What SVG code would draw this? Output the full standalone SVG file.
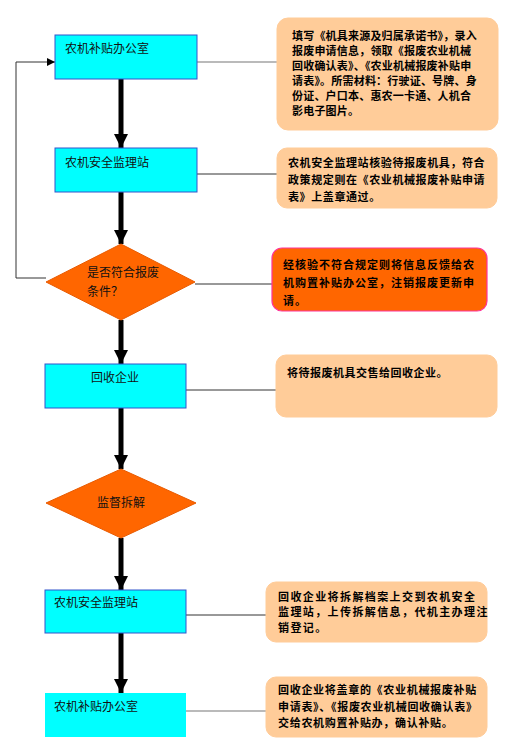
<svg xmlns="http://www.w3.org/2000/svg" width="510" height="756" viewBox="0 0 510 756">
<defs>
<marker id="big" viewBox="0 0 14 16" refX="14" refY="7" markerWidth="14" markerHeight="16" markerUnits="userSpaceOnUse" orient="auto">
<path d="M0,0 L14,7 L0,14 Z" fill="#000"/>
</marker>
<marker id="small" viewBox="0 0 8 8" refX="8" refY="4" markerWidth="8" markerHeight="8" markerUnits="userSpaceOnUse" orient="auto">
<path d="M0,0 L8,4 L0,8 Z" fill="#000"/>
</marker>
<style>
.box{fill:#00FFFF;stroke:#3355CC;stroke-width:1}
.dia{fill:#FF6600;stroke:#E85A00;stroke-width:1}
.note{fill:#FFCC99;stroke:#FFCC99}
.red{fill:#FF6600;stroke:#FF3399;stroke-width:1.2}
.nt{font-family:"Noto Sans CJK SC",sans-serif;font-size:12px;fill:#111}
.tt{font-family:"Noto Sans CJK SC",sans-serif;font-size:11px;font-weight:bold;fill:#000}
.thick{stroke:#000;stroke-width:5;fill:none}
.thin{stroke:#333;stroke-width:1;fill:none}
.gray{stroke:#777;stroke-width:1.2;fill:none}
</style>
</defs>
<rect width="510" height="756" fill="#fff"/>
<g id="connectors">
<line class="thick" x1="121" y1="79" x2="121" y2="148" marker-end="url(#big)"/>
<line class="thick" x1="121" y1="192" x2="121" y2="244" marker-end="url(#big)"/>
<line class="thick" x1="121" y1="320" x2="121" y2="364" marker-end="url(#big)"/>
<line class="thick" x1="121" y1="408" x2="121" y2="469" marker-end="url(#big)"/>
<line class="thick" x1="121" y1="538" x2="121" y2="590" marker-end="url(#big)"/>
<line class="thick" x1="121" y1="633" x2="121" y2="693" marker-end="url(#big)"/>
<polyline class="thin" points="46,278 16,278 16,62 55,62" marker-end="url(#small)"/>
<line class="gray" x1="197" y1="62" x2="277" y2="62"/>
<line class="thin" x1="197" y1="174" x2="277" y2="174"/>
<line class="thin" x1="195" y1="284" x2="272" y2="284"/>
<line class="thin" x1="186" y1="390" x2="276" y2="390"/>
<line class="thin" x1="186" y1="615" x2="266" y2="615"/>
<line class="gray" x1="186" y1="711" x2="266" y2="711"/>
</g>
<g id="node1">
<rect class="box" x="55" y="35" width="142" height="44"/>
<text class="nt" x="65" y="53">农机补贴办公室</text>
</g>
<g id="node2">
<rect class="box" x="55" y="148" width="142" height="44"/>
<text class="nt" x="65" y="167">农机安全监理站</text>
</g>
<g id="decision1">
<polygon class="dia" points="121,244 195,282 121,320 46,282"/>
<text class="nt" x="87" y="277">是否符合报废</text>
<text class="nt" x="87" y="296">条件？</text>
</g>
<g id="node3">
<rect class="box" x="45" y="364" width="141" height="44"/>
<text class="nt" x="115" y="382" text-anchor="middle">回收企业</text>
</g>
<g id="decision2">
<polygon class="dia" points="121,469 196,503 121,538 46,503"/>
<text class="nt" x="121" y="507" text-anchor="middle">监督拆解</text>
</g>
<g id="node4">
<rect class="box" x="45" y="590" width="141" height="43"/>
<text class="nt" x="54" y="607">农机安全监理站</text>
</g>
<g id="node5">
<rect x="45" y="693" width="141" height="44" fill="#00FFFF"/>
<text class="nt" x="54" y="711">农机补贴办公室</text>
</g>
<g id="note1">
<rect class="note" x="277" y="18" width="221" height="112" rx="11"/>
<text class="tt" x="292" y="40" letter-spacing="0.2">填写《机具来源及归属承诺书》，录入</text>
<text class="tt" x="292" y="55" letter-spacing="0.2">报废申请信息，领取《报废农业机械</text>
<text class="tt" x="292" y="70" letter-spacing="0.2">回收确认表》、《农业机械报废补贴申</text>
<text class="tt" x="292" y="85" letter-spacing="0.2">请表》。所需材料：行驶证、号牌、身</text>
<text class="tt" x="292" y="100" letter-spacing="0.2">份证、户口本、惠农一卡通、人机合</text>
<text class="tt" x="292" y="115" letter-spacing="0.2">影电子图片。</text>
</g>
<g id="note2">
<rect class="note" x="277" y="148" width="220" height="60" rx="10"/>
<text class="tt" x="288" y="167" letter-spacing="0.6">农机安全监理站核验待报废机具，符合</text>
<text class="tt" x="288" y="184" letter-spacing="0.6">政策规定则在《农业机械报废补贴申请</text>
<text class="tt" x="288" y="201" letter-spacing="0.6">表》上盖章通过。</text>
</g>
<g id="note3">
<rect class="red" x="272" y="248" width="215" height="63" rx="10"/>
<text class="tt" x="283" y="269" letter-spacing="1">经核验不符合规定则将信息反馈给农</text>
<text class="tt" x="283" y="287" letter-spacing="1">机购置补贴办公室，注销报废更新申</text>
<text class="tt" x="283" y="305" letter-spacing="1">请。</text>
</g>
<g id="note4">
<rect class="note" x="276" y="355" width="221" height="62" rx="10"/>
<text class="tt" x="287" y="377" letter-spacing="0.5">将待报废机具交售给回收企业。</text>
</g>
<g id="note5">
<rect class="note" x="266" y="582" width="221" height="60" rx="10"/>
<text class="tt" x="278" y="601" letter-spacing="1.4">回收企业将拆解档案上交到农机安全</text>
<text class="tt" x="278" y="616" letter-spacing="1.4">监理站，上传拆解信息，代机主办理注</text>
<text class="tt" x="278" y="632" letter-spacing="1.4">销登记。</text>
</g>
<g id="note6">
<rect class="note" x="266" y="677" width="221" height="60" rx="10"/>
<text class="tt" x="278" y="694" letter-spacing="0.7">回收企业将盖章的《农业机械报废补贴</text>
<text class="tt" x="278" y="711" letter-spacing="0.7">申请表》、《报废农业机械回收确认表》</text>
<text class="tt" x="278" y="727" letter-spacing="0.7">交给农机购置补贴办，确认补贴。</text>
</g>
</svg>
